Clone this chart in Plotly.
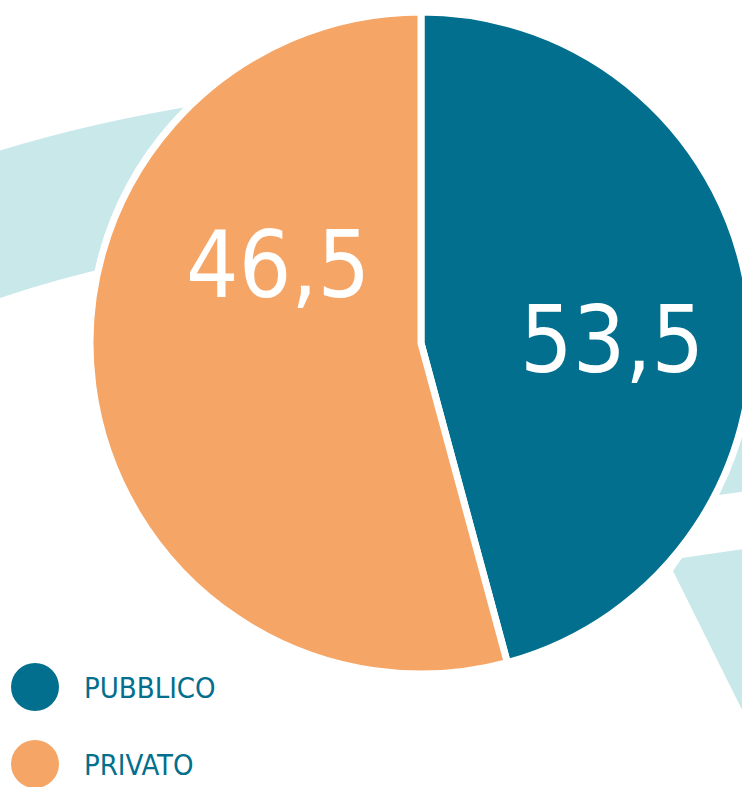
import plotly.graph_objects as go

# ---- data ----
categories = ["PUBBLICO", "PRIVATO"]
label_text = ["53,5", "46,5"]          # numbers printed on the slices
slice_share = [45.8, 54.2]             # slice sizes as drawn in the picture
colors = ["#016F8D", "#F5A667"]
band_color = "#C8E8EA"
text_color = "#016F8D"

W, H = 760, 787
FONT = "DejaVu Sans Condensed, Liberation Sans Narrow, Arial Narrow, sans-serif"


def px(x):
    return x / W


def py(y):
    return 1 - y / H


def path(points_cmds):
    out = []
    for cmd, pts in points_cmds:
        coords = " ".join(f"{px(x):.5f},{py(y):.5f}" for x, y in pts)
        out.append(f"{cmd} {coords}")
    return " ".join(out) + " Z"


fig = go.Figure()

fig.add_trace(go.Pie(
    labels=categories,
    values=slice_share,
    sort=False,
    direction="clockwise",
    rotation=0,
    marker=dict(colors=colors, line=dict(color="white", width=7)),
    textinfo="none",
    hoverinfo="label",
    showlegend=False,
    domain=dict(x=[px(89), px(753)], y=[py(674), py(12)]),
))

shapes = []
# decorative band pieces (behind the pie)
shapes.append(dict(type="path", xref="paper", yref="paper", layer="below",
                   fillcolor=band_color, line=dict(width=0),
                   path=path([("M", [(-20, 157)]), ("Q", [(80, 124), (205, 104)]),
                              ("L", [(260, 200)]), ("L", [(115, 266)]),
                              ("Q", [(50, 280), (-20, 305)])])))
shapes.append(dict(type="path", xref="paper", yref="paper", layer="below",
                   fillcolor=band_color, line=dict(width=0),
                   path=path([("M", [(690, 390)]), ("L", [(770, 390)]),
                              ("L", [(770, 488)]), ("L", [(712, 496)])])))
shapes.append(dict(type="path", xref="paper", yref="paper", layer="below",
                   fillcolor=band_color, line=dict(width=0),
                   path=path([("M", [(673, 571)]), ("L", [(682, 558)]),
                              ("L", [(770, 545)]), ("L", [(770, 766)])])))

# legend circles
legend_y = [687, 764]
for c, yy in zip(colors, legend_y):
    shapes.append(dict(type="circle", xref="paper", yref="paper",
                       x0=px(11), x1=px(59), y0=py(yy + 24), y1=py(yy - 24),
                       fillcolor=c, line=dict(width=0)))

annotations = []
for name, yy in zip(categories, legend_y):
    annotations.append(dict(text=name, xref="paper", yref="paper",
                            x=px(82), y=py(yy + 1), xanchor="left", yanchor="middle",
                            showarrow=False,
                            font=dict(family=FONT, size=29, color=text_color)))

label_pos = [(612, 340), (278, 265)]
for t, (xx, yy) in zip(label_text, label_pos):
    annotations.append(dict(text=t, xref="paper", yref="paper",
                            x=px(xx), y=py(yy), xanchor="center", yanchor="middle",
                            showarrow=False,
                            font=dict(family=FONT, size=92, color="white")))

fig.update_layout(
    width=W, height=H,
    margin=dict(l=0, r=0, t=0, b=0),
    paper_bgcolor="white", plot_bgcolor="white",
    shapes=shapes, annotations=annotations,
)

fig.write_html("out.html",
               post_script="document.documentElement.style.overflow='hidden';"
                           "document.body.style.overflow='hidden';")
